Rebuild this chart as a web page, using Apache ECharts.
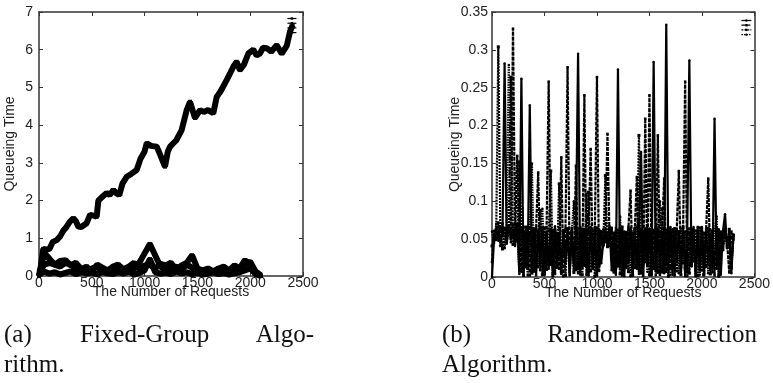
<!DOCTYPE html>
<html>
<head>
<meta charset="utf-8">
<script src="https://cdn.jsdelivr.net/npm/echarts@6/dist/echarts.min.js"></script>
<style>
html,body{margin:0;padding:0;background:#fff;}
#c{width:773px;height:383px;}
</style>
</head>
<body>
<div id="c"></div>
<script>
// ---------- (a) Fixed-Group Algorithm ----------
var fgMainX = [0,20,40,70,100,130,167,200,230,260,293,325,350,372,400,451,483,520,546,562,
  600,641,670,704,730,761,790,830,870,925,960,1000,1020,1060,1115,1150,1193,1220,1241,1300,
  1351,1399,1430,1477,1525,1560,1600,1651,1683,1720,1778,1809,1840,1872,1903,1940,1982,2030,2060,2093,
  2120,2157,2200,2251,2298,2346,2377,2402];
var fgMainY = [0,0.3,0.72,0.7,0.72,0.9,0.95,1.05,1.2,1.3,1.44,1.53,1.45,1.31,1.3,1.4,1.62,1.6,1.57,2.0,
  2.1,2.2,2.15,2.28,2.2,2.15,2.45,2.63,2.7,2.81,3.1,3.3,3.52,3.45,3.43,3.2,2.9,3.3,3.43,3.6,
  3.87,4.4,4.62,4.19,4.4,4.35,4.4,4.32,4.75,4.9,5.2,5.37,5.55,5.68,5.46,5.6,5.9,6.0,5.85,5.9,
  6.05,6.04,5.95,6.12,5.9,6.1,6.48,6.65];
var fgLowX = [0,50,100,150,200,250,300,350,400,450,500,550,600,650,700,750,800,850,900,950,
  1000,1050,1100,1150,1200,1250,1300,1350,1400,1450,1500,1550,1600,1650,1700,1750,1800,1850,1900,1950,
  2000,2050,2100];
var fgLowA = [0,0.62,0.45,0.3,0.25,0.35,0.3,0.2,0.15,0.1,
  0.2,0.25,0.12,0.08,0.15,0.22,0.1,0.12,0.2,0.35,
  0.6,0.85,0.55,0.25,0.15,0.2,0.25,0.18,0.3,0.22,
  0.1,0.12,0.08,0.1,0.15,0.07,0.1,0.18,0.12,0.3,
  0.38,0.12,0.02];
var fgLowB = [0.1,0.3,0.35,0.3,0.4,0.42,0.28,0.35,0.18,0.25,
  0.1,0.3,0.22,0.15,0.25,0.3,0.18,0.25,0.35,0.18,
  0.28,0.3,0.2,0.32,0.28,0.35,0.15,0.28,0.35,0.55,
  0.2,0.15,0.2,0.12,0.2,0.25,0.15,0.28,0.2,0.42,
  0.3,0.05,0.0];
var fgLowC = [0.05,0.12,0.06,0.1,0.04,0.08,0.12,0.05,0.1,0.06,
  0.09,0.04,0.11,0.07,0.05,0.1,0.06,0.12,0.04,0.08,
  0.15,0.45,0.1,0.06,0.09,0.05,0.12,0.07,0.1,0.05,
  0.08,0.04,0.06,0.1,0.05,0.08,0.04,0.07,0.1,0.15,
  0.2,0.06,0.01];

// ---------- (b) Random-Redirection Algorithm ----------
var rrX = [0,20,40,60,80,100,120,140,160,180,
  200,220,240,260,280,300,320,340,360,380,
  400,420,440,460,480,500,520,540,560,580,
  600,620,640,660,680,700,720,740,760,780,
  800,820,840,860,880,900,920,940,960,980,
  1000,1020,1040,1060,1080,1100,1120,1140,1160,1180,
  1200,1220,1240,1260,1280,1300,1320,1340,1360,1380,
  1400,1420,1440,1460,1480,1500,1520,1540,1560,1580,
  1600,1620,1640,1660,1680,1700,1720,1740,1760,1780,
  1800,1820,1840,1860,1880,1900,1920,1940,1960,1980,
  2000,2020,2040,2060,2080,2100,2120,2140,2160,2180,
  2200,2220,2240,2260,2280,2300];
var rrS1 = [0,0.052,0.063,0.048,0.066,0.057,0.282,0.044,0.068,0.05,
  0.062,0.041,0.07,0.008,0.262,0.003,0.061,0.015,0.227,0.006,
  0.064,0.002,0.058,0.019,0.066,0.004,0.06,0.011,0.063,0.001,
  0.067,0.014,0.057,0.005,0.062,0.022,0.059,0.003,0.065,0.009,
  0.061,0.295,0.006,0.064,0.017,0.058,0.002,0.066,0.012,0.06,
  0.004,0.063,0.018,0.045,0.06,0.042,0.067,0.009,0.058,0.003,
  0.274,0.013,0.062,0.001,0.059,0.02,0.065,0.006,0.061,0.011,
  0.057,0.165,0.004,0.064,0.016,0.06,0.002,0.284,0.008,0.063,
  0.014,0.058,0.005,0.333,0.012,0.066,0.003,0.061,0.019,0.059,
  0.007,0.064,0.001,0.06,0.286,0.015,0.063,0.004,0.058,0.01,
  0.066,0.002,0.061,0.017,0.057,0.006,0.209,0.011,0.063,0.003,
  0.06,0.083,0.038,0.058,0.005,0.056];
var rrS2 = [0.02,0.061,0.049,0.072,0.041,0.058,0.065,0.046,0.063,0.051,
  0.328,0.055,0.16,0.062,0.007,0.059,0.013,0.066,0.002,0.061,
  0.018,0.064,0.138,0.009,0.06,0.003,0.065,0.258,0.016,0.062,
  0.004,0.058,0.011,0.158,0.001,0.063,0.277,0.007,0.059,0.021,
  0.147,0.005,0.066,0.012,0.24,0.003,0.061,0.169,0.014,0.064,
  0.264,0.008,0.059,0.041,0.062,0.189,0.048,0.065,0.006,0.06,
  0.017,0.063,0.002,0.058,0.012,0.066,0.114,0.005,0.061,0.132,
  0.009,0.064,0.001,0.209,0.015,0.24,0.004,0.062,0.018,0.187,
  0.003,0.059,0.13,0.007,0.065,0.011,0.06,0.002,0.063,0.14,
  0.013,0.058,0.258,0.006,0.064,0.016,0.061,0.001,0.066,0.009,
  0.059,0.004,0.063,0.13,0.012,0.06,0.002,0.065,0.017,0.058,
  0.041,0.062,0.045,0.006,0.06,0.052];
var rrS3 = [0.041,0.05,0.058,0.304,0.055,0.037,0.064,0.052,0.06,0.264,
  0.043,0.059,0.048,0.152,0.06,0.002,0.066,0.012,0.058,0.005,
  0.063,0.017,0.06,0.088,0.003,0.065,0.01,0.061,0.14,0.004,
  0.062,0.015,0.123,0.007,0.059,0.002,0.064,0.019,0.06,0.006,
  0.066,0.011,0.058,0.003,0.063,0.014,0.112,0.008,0.061,0.001,
  0.065,0.016,0.06,0.043,0.134,0.04,0.063,0.039,0.058,0.012,
  0.062,0.004,0.066,0.018,0.059,0.007,0.061,0.002,0.064,0.013,
  0.187,0.005,0.058,0.02,0.063,0.003,0.06,0.011,0.065,0.006,
  0.059,0.09,0.014,0.062,0.001,0.058,0.017,0.064,0.008,0.06,
  0.003,0.066,0.012,0.059,0.005,0.063,0.021,0.061,0.002,0.065,
  0.009,0.058,0.014,0.064,0.004,0.06,0.018,0.062,0.001,0.059,
  0.036,0.061,0.04,0.063,0.012,0.055];
var rrS4 = [0.06,0.045,0.07,0.059,0.05,0.071,0.038,0.062,0.28,0.046,
  0.069,0.051,0.066,0.004,0.063,0.01,0.06,0.002,0.065,0.15,
  0.007,0.061,0.013,0.064,0.09,0.006,0.058,0.016,0.062,0.001,
  0.06,0.012,0.065,0.004,0.061,0.018,0.063,0.002,0.059,0.1,
  0.009,0.064,0.003,0.06,0.015,0.11,0.006,0.062,0.011,0.066,
  0.002,0.061,0.044,0.063,0.046,0.059,0.041,0.062,0.008,0.065,
  0.014,0.08,0.005,0.06,0.019,0.063,0.001,0.058,0.012,0.066,
  0.004,0.061,0.017,0.059,0.007,0.064,0.013,0.06,0.002,0.062,
  0.1,0.006,0.065,0.016,0.058,0.003,0.063,0.011,0.061,0.005,
  0.064,0.018,0.06,0.001,0.059,0.014,0.066,0.007,0.062,0.003,
  0.065,0.012,0.058,0.005,0.063,0.02,0.061,0.08,0.004,0.06,
  0.039,0.064,0.042,0.057,0.015,0.05];

var xTicks = ['0','500','1000','1500','2000','2500'];
var yTicksA = ['0','1','2','3','4','5','6','7'];
var yTicksB = ['0','0.05','0.1','0.15','0.2','0.25','0.3','0.35'];

var captionA = ['(a)', 'Fixed-Group', 'Algo-', 'rithm.'];
var captionB = ['(b)', 'Random-Redirection', 'Algorithm.'];

function pairs(xs, ys){ return xs.map(function(x,i){ return [x, ys[i]]; }); }

var FONT = 'Liberation Sans';
var AX = '#333';
var TXT = '#222';
var CAPFONT = '25px "Liberation Serif"';

function xMain(gi){
  return {type:'value', gridIndex:gi, min:0, max:2500, interval:500, position:'bottom',
    axisLine:{show:true, onZero:false, lineStyle:{color:AX, width:1.5}},
    axisTick:{show:true, inside:true, length:4, lineStyle:{color:AX}},
    axisLabel:{color:TXT, fontFamily:FONT, fontSize:14, margin:0,
      formatter:function(v){ return xTicks[Math.round(v/500)]; }},
    splitLine:{show:false},
    name:'The Number of Requests', nameLocation:'middle', nameGap:9, nameMoveOverlap:false,
    nameTextStyle:{color:TXT, fontFamily:FONT, fontSize:14, verticalAlign:'top'}};
}
function xTop(gi){
  return {type:'value', gridIndex:gi, min:0, max:2500, interval:500, position:'top',
    axisLine:{show:true, onZero:false, lineStyle:{color:AX, width:1.5}},
    axisTick:{show:true, inside:true, length:4, lineStyle:{color:AX}},
    axisLabel:{show:false}, splitLine:{show:false}};
}
function yMain(gi, max, interval, gap, lm, fmt){
  return {type:'value', gridIndex:gi, min:0, max:max, interval:interval, position:'left',
    axisLine:{show:true, onZero:false, lineStyle:{color:AX, width:1.5}},
    axisTick:{show:true, inside:true, length:4, lineStyle:{color:AX}},
    axisLabel:{color:TXT, fontFamily:FONT, fontSize:14, margin:lm, formatter:fmt},
    splitLine:{show:false},
    name:'Queueing Time', nameLocation:'middle', nameGap:gap, nameMoveOverlap:false,
    nameTextStyle:{color:TXT, fontFamily:FONT, fontSize:14}};
}
function yRight(gi, max, interval){
  return {type:'value', gridIndex:gi, min:0, max:max, interval:interval, position:'right',
    axisLine:{show:true, onZero:false, lineStyle:{color:AX, width:1.5}},
    axisTick:{show:true, inside:true, length:4, lineStyle:{color:AX}},
    axisLabel:{show:false}, splitLine:{show:false}};
}

function fgSeries(name, xs, ys, w){
  return {name:name, type:'line', xAxisIndex:0, yAxisIndex:0, data:pairs(xs, ys),
    symbol:'rect', symbolSize:4, showSymbol:true,
    lineStyle:{color:'#000', width:w, type:'solid'}, itemStyle:{color:'#000'},
    animation:false, clip:true};
}
function rrSeries(name, ys, type, sym, ss){
  return {name:name, type:'line', xAxisIndex:2, yAxisIndex:2, data:pairs(rrX, ys),
    symbol:sym, symbolSize:ss, showSymbol:true,
    lineStyle:{color:'#000', width:2.2, type:type}, itemStyle:{color:'#000'},
    animation:false, clip:true};
}

var option = {
  backgroundColor:'#fff',
  animation:false,
  grid:[
    {left:39, right:470, top:12, bottom:107},
    {left:492, right:16, top:12, bottom:106}
  ],
  xAxis:[xMain(0), xTop(0), xMain(1), xTop(1)],
  yAxis:[
    yMain(0, 7, 1, 22, 6, function(v){ return yTicksA[Math.round(v)]; }),
    yRight(0, 7, 1),
    yMain(1, 0.35, 0.05, 30, 4, function(v){ return yTicksB[Math.round(v/0.05)]; }),
    yRight(1, 0.35, 0.05)
  ],
  legend:[
    {data:['a1','a2','a3','a4'], right:476, top:17, orient:'vertical', itemWidth:9, itemHeight:3, itemGap:2,
     formatter:function(){return '';}, textStyle:{fontSize:1}, padding:0, selectedMode:false,
     lineStyle:{width:1.2}, itemStyle:{borderWidth:0}},
    {data:['b1','b2','b3','b4'], right:21, top:19, orient:'vertical', itemWidth:10, itemHeight:3, itemGap:2,
     formatter:function(){return '';}, textStyle:{fontSize:1}, padding:0, selectedMode:false,
     lineStyle:{width:1.2}}
  ],
  series:[
    fgSeries('a1', fgMainX, fgMainY, 6),
    fgSeries('a2', fgLowX, fgLowA, 6),
    fgSeries('a3', fgLowX, fgLowB, 6),
    fgSeries('a4', fgLowX, fgLowC, 6),
    rrSeries('b1', rrS1, 'solid', 'circle', 2.5),
    rrSeries('b2', rrS2, [4,1], 'rect', 2.5),
    rrSeries('b3', rrS3, [2,1], 'rect', 3),
    rrSeries('b4', rrS4, [1.5,1], 'circle', 2.5)
  ],
  graphic:[
    {type:'text', left:4, top:323, style:{text:captionA[0], font:CAPFONT, fill:'#111'}},
    {type:'text', left:80, top:323, style:{text:captionA[1], font:CAPFONT, fill:'#111'}},
    {type:'text', right:773-314, top:323, style:{text:captionA[2], font:CAPFONT, fill:'#111'}},
    {type:'text', left:4, top:353, style:{text:captionA[3], font:CAPFONT, fill:'#111'}},
    {type:'text', left:442, top:323, style:{text:captionB[0], font:CAPFONT, fill:'#111'}},
    {type:'text', right:773-757, top:323, style:{text:captionB[1], font:CAPFONT, fill:'#111'}},
    {type:'text', left:442, top:353, style:{text:captionB[2], font:CAPFONT, fill:'#111'}}
  ]
};
var chart = echarts.init(document.getElementById('c'), null, {renderer:'canvas'});
chart.setOption(option);
</script>
</body>
</html>
